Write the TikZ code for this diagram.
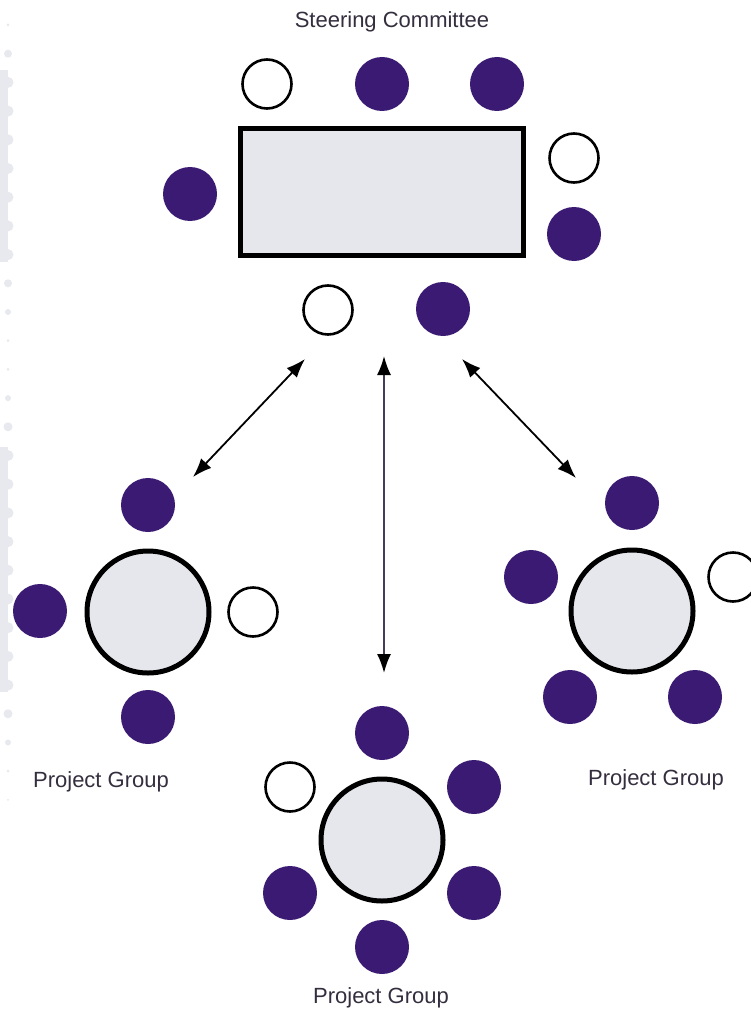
\documentclass[tikz,border=0pt]{standalone}
\usepackage{fontspec}
\setmainfont{Liberation Sans}
\usetikzlibrary{arrows.meta}
\definecolor{seat}{RGB}{58,26,114}
\definecolor{tablefill}{RGB}{230,231,236}
\definecolor{labeltext}{RGB}{52,46,62}
\definecolor{edgegray}{RGB}{232,233,238}
\definecolor{linkgray}{RGB}{70,60,88}
\tikzset{
  member/.style={circle, fill=seat, minimum size=54pt, inner sep=0pt},
  vacant/.style={circle, draw=black, line width=2.6pt, fill=white, minimum size=49pt, inner sep=0pt},
  roundtable/.style={circle, draw=black, line width=5pt, fill=tablefill, minimum size=122pt, inner sep=0pt},
  boardtable/.style={rectangle, draw=black, line width=5pt, fill=tablefill, minimum width=283pt, minimum height=126pt, inner sep=0pt},
  caption/.style={text=labeltext, font=\fontsize{22}{26}\selectfont, inner sep=0pt},
  link/.style={line width=1.8pt, {Latex[length=19pt,width=14pt,color=black]}-{Latex[length=19pt,width=14pt,color=black]}}
}
\begin{document}
\begin{tikzpicture}[x=1pt, y=-1pt]
\useasboundingbox (0,0) rectangle (750,1011);

% perforated margin strip on the left edge
\fill[edgegray] (0,70) rectangle (8,262);
\fill[edgegray] (0,447) rectangle (8,692);
\foreach \k in {2,...,8,15,16,...,23}
  \fill[edgegray] (8,{25+28.7*\k}) circle (5.5);
\foreach \k/\r in {0/1.5,1/4,9/4,10/3,11/1.5,12/1.5,13/3,14/4.5,24/4.5,25/3,26/1.5,27/1}
  \fill[edgegray] (8,{25+28.7*\k}) circle (\r);

% steering committee
\node[caption] (sctitle) at (392,22) {Steering Committee};
\node[boardtable] (board) at (381.5,192) {};
\node[vacant] (s1) at (267,84) {};
\node[member] (s2) at (382,84) {};
\node[member] (s3) at (497,84) {};
\node[member] (s4) at (190,194) {};
\node[vacant] (s5) at (574,158) {};
\node[member] (s6) at (574,234) {};
\node[vacant] (s7) at (328,310) {};
\node[member] (s8) at (443,309) {};

% left project group
\node[roundtable] (lt) at (148,612) {};
\node[member] (l1) at (148,505) {};
\node[member] (l2) at (40,611) {};
\node[vacant] (l3) at (253,612) {};
\node[member] (l4) at (148,717) {};
\node[caption] (ltitle) at (101,782) {Project Group};

% right project group
\node[roundtable] (rt) at (632,611) {};
\node[member] (r1) at (632,503) {};
\node[member] (r2) at (531,577) {};
\node[vacant] (r3) at (733,577) {};
\node[member] (r4) at (570,697) {};
\node[member] (r5) at (695,697) {};
\node[caption] (rtitle) at (656,780) {Project Group};

% bottom project group
\node[roundtable] (bt) at (382,840) {};
\node[member] (b1) at (382,733) {};
\node[member] (b2) at (474,787) {};
\node[member] (b3) at (474,893) {};
\node[member] (b4) at (382,947) {};
\node[member] (b5) at (290,893) {};
\node[vacant] (b6) at (290,787) {};
\node[caption] (btitle) at (381,998) {Project Group};

% links between the committee and the groups
\coordinate (la) at (305,359);
\coordinate (lb) at (193,477);
\coordinate (ma) at (384,356);
\coordinate (mb) at (384,673);
\coordinate (ra) at (462,359);
\coordinate (rb) at (576,478);
\draw[link] (la) -- (lb);
\draw[link, draw=linkgray] (ma) -- (mb);
\draw[link] (ra) -- (rb);
\end{tikzpicture}
\end{document}
